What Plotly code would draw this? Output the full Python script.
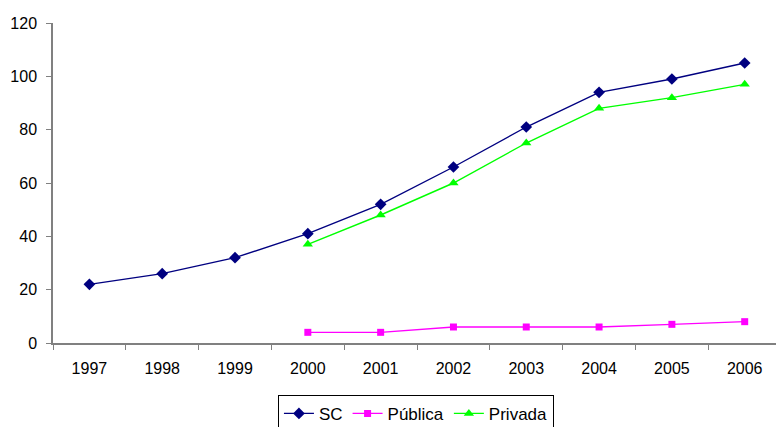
import plotly.graph_objects as go

years = ["1997", "1998", "1999", "2000", "2001", "2002", "2003", "2004", "2005", "2006"]
sc = [22, 26, 32, 41, 52, 66, 81, 94, 99, 105]
publica_years = ["2000", "2001", "2002", "2003", "2004", "2005", "2006"]
publica = [4, 4, 6, 6, 6, 7, 8]
privada_years = ["2000", "2001", "2002", "2003", "2004", "2005", "2006"]
privada = [37, 48, 60, 75, 88, 92, 97]
y_ticks = [0, 20, 40, 60, 80, 100, 120]

fig = go.Figure()
fig.add_trace(go.Scatter(
    x=years, y=sc, name="SC", mode="lines+markers",
    line=dict(color="#000080", width=1.4),
    marker=dict(symbol="diamond", size=9, color="#000080"),
))
fig.add_trace(go.Scatter(
    x=publica_years, y=publica, name="Pública", mode="lines+markers",
    line=dict(color="#FF00FF", width=1.4),
    marker=dict(symbol="square", size=7, color="#FF00FF"),
))
fig.add_trace(go.Scatter(
    x=privada_years, y=privada, name="Privada", mode="lines+markers",
    line=dict(color="#00FF00", width=1.4),
    marker=dict(symbol="triangle-up", size=9, color="#00FF00"),
))

fig.update_layout(
    width=776, height=427,
    margin=dict(l=53, r=0, t=23, b=83.5, autoexpand=False),
    paper_bgcolor="white", plot_bgcolor="white",
    font=dict(family="Liberation Sans, Arial, sans-serif", size=16, color="black"),
    showlegend=True,
    legend=dict(
        orientation="h", x=0.502, xanchor="center", y=-0.162, yanchor="top",
        bordercolor="black", borderwidth=1, font=dict(size=17),
        tracegroupgap=0,
    ),
    xaxis=dict(
        type="category", categoryarray=years, categoryorder="array",
        range=[-0.5, 9.43], tickson="boundaries", ticks="outside", ticklen=5,
        tickcolor="#808080", showline=True, linecolor="#808080", linewidth=1.5,
        showgrid=False, zeroline=False, fixedrange=True, ticklabelstandoff=10,
    ),
    yaxis=dict(
        range=[0, 120], tickvals=y_ticks, ticks="outside", ticklen=5,
        tickcolor="#808080", showline=True, linecolor="#808080", linewidth=1.5,
        showgrid=False, zeroline=False, fixedrange=True, ticklabelstandoff=6,
    ),
)

fig.write_html("out.html")
